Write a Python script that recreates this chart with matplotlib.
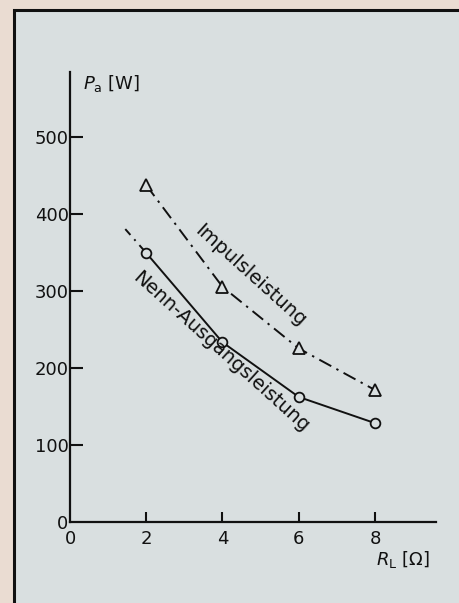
import matplotlib
matplotlib.use("Agg")
import matplotlib.pyplot as plt
from matplotlib.patches import Rectangle

# load resistance R_L [Ohm] and output power P_a [W]
r_load = [2, 4, 6, 8]
p_nenn = [349, 233, 162, 128]      # Nenn-Ausgangsleistung
p_impuls = [437, 305, 225, 171]    # Impulsleistung
nenn_lead_x = [1.45, 2]            # short dashed lead-in before first point
nenn_lead_y = [380, 349]

x_ticks = [0, 2, 4, 6, 8]
y_ticks = [0, 100, 200, 300, 400, 500]

BG = "#d9dfe0"
OUTER = "#eadcd2"
INK = "#111111"

plt.rcParams["font.family"] = ["DejaVu Sans"]
plt.rcParams["mathtext.fontset"] = "dejavusans"

fig = plt.figure(figsize=(4.6, 6.03), dpi=100)
fig.patch.set_facecolor(OUTER)
fig.patches.append(Rectangle((14 / 460, -0.05), 1.2, 1 - 10 / 603 + 0.05,
                             transform=fig.transFigure, facecolor=BG,
                             edgecolor=INK, lw=2.2, zorder=-5))

ax = fig.add_axes([70 / 460, 81.3 / 603, 366 / 460, 449.7 / 603])
ax.set_zorder(2)
ax.set_facecolor("none")
ax.set_xlim(0, 9.6)
ax.set_ylim(0, 584)

ax.plot(r_load, p_nenn, color=INK, lw=1.4, marker="o", ms=7,
        mfc=BG, mec=INK, mew=1.3, zorder=3)
ax.plot(nenn_lead_x, nenn_lead_y, color=INK, lw=1.4,
        dashes=(4, 3, 1, 3), zorder=2)
ax.plot(r_load, p_impuls, color=INK, lw=1.4, dashes=(7, 3, 1.2, 3),
        marker="^", ms=9, mfc=BG, mec=INK, mew=1.3, zorder=3)

ax.text(4.72, 319, "Impulsleistung", rotation=-42, rotation_mode="anchor",
        ha="center", va="center", fontsize=14, color=INK)
ax.text(3.96, 220, "Nenn-Ausgangsleistung", rotation=-42, rotation_mode="anchor",
        ha="center", va="center", fontsize=14, color=INK)

ax.set_xticks(x_ticks)
ax.set_yticks(y_ticks)
ax.set_xticklabels([str(v) for v in x_ticks])
ax.set_yticklabels([str(v) for v in y_ticks])
ax.tick_params(axis="x", direction="in", length=7, width=1.5, pad=6,
               labelsize=13, colors=INK)
ax.tick_params(axis="y", direction="in", length=9.5, width=1.5, pad=1,
               labelsize=13, colors=INK)
ax.xaxis.get_major_ticks()[0].tick1line.set_visible(False)
ax.yaxis.get_major_ticks()[0].tick1line.set_visible(False)

for s in ["top", "right"]:
    ax.spines[s].set_visible(False)
for s in ["left", "bottom"]:
    ax.spines[s].set_linewidth(1.6)
    ax.spines[s].set_color(INK)

ax.text(0.036, 0.975, r"$P_\mathrm{a}$ [W]", transform=ax.transAxes,
        ha="left", va="center", fontsize=13, color=INK)
ax.text(0.91, -0.085, r"$R_\mathrm{L}$ [$\Omega$]", transform=ax.transAxes,
        ha="center", va="center", fontsize=13, color=INK, clip_on=False)

fig.savefig("out.png", dpi=100, facecolor=OUTER)
